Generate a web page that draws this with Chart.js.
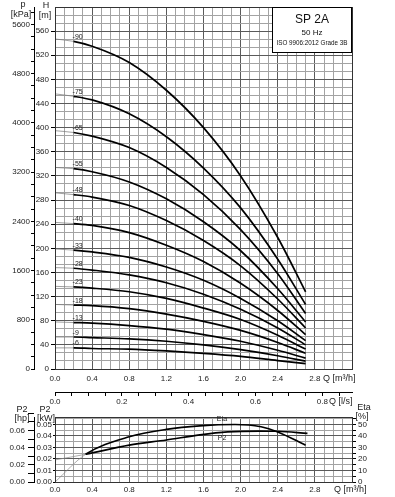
<!DOCTYPE html>
<html><head><meta charset="utf-8">
<script src="https://cdn.jsdelivr.net/npm/chart.js@4/dist/chart.umd.min.js"></script>
<style>
html,body{margin:0;padding:0;background:#fff;width:395px;height:497px;overflow:hidden;position:relative}
canvas{position:absolute;left:0}
</style></head>
<body>
<canvas id="top" width="395" height="410" style="top:0"></canvas>
<canvas id="bot" width="395" height="97" style="top:400px"></canvas>
<script>
// ---------- DATA ----------
const flowQ = [0, 0.2, 0.4, 0.8, 1.2, 1.6, 2.0, 2.4, 2.7];           // m3/h
const stageLabels = ['-90','-75','-65','-55','-48','-40','-33','-28','-23','-18','-13','-9','-6'];
const head90 = [547, 543, 535, 508, 462, 400, 320, 218, 128];
const head75 = [456, 452, 446, 423, 385, 333, 267, 182, 107];
const head65 = [395, 392, 386, 367, 334, 289, 231, 158, 92];
const head55 = [334, 332, 327, 310, 282, 244, 196, 133, 78];
const head48 = [292, 289, 285, 271, 246, 213, 171, 116, 68];
const head40 = [243, 241, 238, 226, 205, 178, 142, 97, 57];
const head33 = [199, 197, 194, 185, 169, 147, 117, 80, 47];
const head28 = [168, 167, 164, 156, 143, 124, 99, 68, 40];
const head23 = [137, 136, 134, 128, 117, 101, 82, 56, 33];
const head18 = [107, 106, 105, 100, 91, 79, 64, 44, 26];
const head13 = [78, 77, 76, 72, 66, 57, 46, 31, 18];
const head9  = [53, 53, 52, 50, 46, 40, 32, 22, 13];
const head6  = [35, 35, 34, 33, 30, 26, 21, 14, 9];
const headCurves = [head90, head75, head65, head55, head48, head40, head33, head28, head23, head18, head13, head9, head6];

const effQ   = [0, 0.33, 0.8, 1.2, 1.56, 1.94, 2.22, 2.4, 2.7];
const etaPct = [0, 24.1, 39.3, 45.7, 48.8, 50, 48, 43.5, 32];
const p2Q    = [0, 0.33, 0.8, 1.2, 1.56, 1.86, 2.2, 2.4, 2.72];
const p2kW   = [0.0192, 0.0241, 0.0321, 0.0365, 0.041, 0.0436, 0.0443, 0.0441, 0.0422];

const qTickLabels   = [0.0, 0.4, 0.8, 1.2, 1.6, 2.0, 2.4, 2.8];
const lsTickLabels  = [0.0, 0.2, 0.4, 0.6, 0.8];
const hTickLabels   = [0, 40, 80, 120, 160, 200, 240, 280, 320, 360, 400, 440, 480, 520, 560];
const pTickLabels   = [0, 800, 1600, 2400, 3200, 4000, 4800, 5600];
const kwTickLabels  = [0.00, 0.01, 0.02, 0.03, 0.04, 0.05];
const hpTickLabels  = [0.00, 0.02, 0.04, 0.06];
const etaTickLabels = [0, 10, 20, 30, 40, 50];

// ---------- HELPERS ----------
const FAM = '"Liberation Sans", Arial, sans-serif';
Chart.defaults.font.family = FAM;
Chart.defaults.color = '#222';
const F8 = {family: FAM, size: 8};
function grid(maxV, step){ const a=[]; const n=Math.round(maxV/step); for(let i=0;i<=n;i++) a.push(+(i*step).toFixed(6)); return a; }
function has(list, v){ return list.some(t => Math.abs(t - v) < 1e-6); }
const Q_MAX = 3.2, H_MAX = 600;
const qGrid = grid(Q_MAX, 0.1);
const hGrid = grid(H_MAX, 40/3);
const pGrid = grid(5800, 200);
const lsGrid = grid(0.85, 0.05);
const minorC = '#a3a3a3', majorC = '#5a5a5a';

const topDecor = {
  id: 'topDecor',
  afterDraw(chart){
    const c = chart.ctx, a = chart.chartArea;
    c.save();
    c.strokeStyle = '#333'; c.lineWidth = 1;
    c.strokeRect(Math.round(a.left)+0.5, Math.round(a.top)+0.5, Math.round(a.right-a.left), Math.round(a.bottom-a.top));
    // legend box
    c.fillStyle = '#fff'; c.fillRect(272, 7, 80, 45);
    c.strokeStyle = '#000'; c.strokeRect(272.5, 7.5, 79, 45);
    c.fillStyle = '#111'; c.textAlign = 'center'; c.textBaseline = 'middle';
    c.font = '12px ' + FAM; c.fillText('SP 2A', 312, 20);
    c.font = '8px ' + FAM; c.fillText('50 Hz', 312, 33);
    c.font = '6.3px ' + FAM; c.fillText('ISO 9906:2012 Grade 3B', 312, 43.5);
    // axis titles
    c.font = '9px ' + FAM; c.fillStyle = '#222';
    c.fillText('p', 23, 5); c.fillText('[kPa]', 21, 15);
    c.fillText('H', 46, 6); c.fillText('[m]', 45, 16);
    c.textAlign = 'left';
    c.fillText('Q [m\u00B3/h]', 323, 379);
    c.fillText('Q [l/s]', 329, 402);
    // curve labels
    c.font = '7px ' + FAM; c.textBaseline = 'alphabetic';
    const xs = chart.scales.x, ys = chart.scales.y;
    chart.data.datasets.forEach(ds => {
      const p = ds.data[1];
      c.fillText(ds.label, xs.getPixelForValue(p.x) - 1, ys.getPixelForValue(p.y) - 2.5);
    });
    c.restore();
  }
};

new Chart(document.getElementById('top'), {
  type: 'line',
  data: {
    datasets: headCurves.map((h, i) => ({
      label: stageLabels[i],
      data: flowQ.map((q, j) => ({x: q, y: h[j]})),
      borderColor: '#000', borderWidth: 1.6, pointRadius: 0, fill: false,
      cubicInterpolationMode: 'monotone',
      segment: {
        borderWidth: ctx => ctx.p1.parsed.x <= 0.2001 ? 0.7 : 1.7,
        borderColor: ctx => ctx.p1.parsed.x <= 0.2001 ? '#777' : '#000'
      }
    }))
  },
  options: {
    responsive: false, animation: false, devicePixelRatio: 1,
    layout: {padding: {top: 7, right: 43, left: 0, bottom: 0}},
    plugins: {legend: {display: false}, tooltip: {enabled: false}},
    scales: {
      x: {
        type: 'linear', position: 'bottom', min: 0, max: Q_MAX, weight: 0,
        afterFit: s => { s.height = 23; },
        afterBuildTicks: s => { s.ticks = qGrid.map(v => ({value: v})); },
        ticks: {autoSkip: false, maxRotation: 0, minRotation: 0, padding: 5, font: F8,
          callback: v => has(qTickLabels, v) ? v.toFixed(1) : ''},
        grid: {drawTicks: false, lineWidth: 1, color: ctx => has(qTickLabels, ctx.tick ? ctx.tick.value : -1) ? majorC : minorC},
        border: {color: '#000', width: 1}
      },
      ls: {
        type: 'linear', position: 'bottom', min: 0, max: Q_MAX / 3.6, weight: 1,
        afterFit: s => { s.height = 18; },
        afterBuildTicks: s => { s.ticks = lsGrid.map(v => ({value: v})); },
        ticks: {autoSkip: false, maxRotation: 0, minRotation: 0, padding: 1, font: F8,
          callback: v => has(lsTickLabels, v) ? v.toFixed(1) : ''},
        grid: {drawOnChartArea: false, tickLength: 4, tickColor: '#000'},
        border: {color: '#000', width: 1}
      },
      y: {
        type: 'linear', position: 'left', min: 0, max: H_MAX, weight: 0,
        afterFit: s => { s.width = 21; },
        afterBuildTicks: s => { s.ticks = hGrid.map(v => ({value: v})); },
        ticks: {autoSkip: false, padding: 2, font: F8,
          callback: v => has(hTickLabels, v) ? String(Math.round(v)) : ''},
        grid: {lineWidth: 1, tickLength: 4,
          color: ctx => has(hTickLabels, ctx.tick ? ctx.tick.value : -1) ? majorC : minorC,
          tickColor: ctx => has(hTickLabels, ctx.tick ? ctx.tick.value : -1) ? '#000' : 'rgba(0,0,0,0)'},
        border: {color: '#000', width: 1}
      },
      p: {
        type: 'linear', position: 'left', min: 0, max: H_MAX * 9.80665, weight: 1,
        afterFit: s => { s.width = 34; },
        afterBuildTicks: s => { s.ticks = pGrid.map(v => ({value: v})); },
        ticks: {autoSkip: false, padding: 1, font: F8,
          callback: v => has(pTickLabels, v) ? String(v) : ''},
        grid: {drawOnChartArea: false, tickLength: 3, tickColor: '#000'},
        border: {color: '#000', width: 1}
      }
    }
  },
  plugins: [topDecor]
});

// ---------- BOTTOM CHART ----------
const KW_MAX = 0.0565;
const kwGrid = grid(KW_MAX, 0.005);
const hpGrid = grid(0.075, 0.01);
const etaGrid = grid(55, 5);

const botDecor = {
  id: 'botDecor',
  afterDraw(chart){
    const c = chart.ctx, a = chart.chartArea;
    c.save();
    c.strokeStyle = '#333'; c.lineWidth = 1;
    c.strokeRect(Math.round(a.left)+0.5, Math.round(a.top)+0.5, Math.round(a.right-a.left), Math.round(a.bottom-a.top));
    c.fillStyle = '#222'; c.textAlign = 'center'; c.textBaseline = 'middle';
    c.font = '9px ' + FAM;
    c.fillText('P2', 22, 10); c.fillText('[hp]', 22, 18.5);
    c.fillText('P2', 45, 10); c.fillText('[kW]', 46, 18.5);
    c.fillText('Eta', 364, 8); c.fillText('[%]', 362, 17);
    c.font = '7px ' + FAM;
    c.fillText('Eta', 222, 19); c.fillText('P2', 222, 38);
    c.font = '9px ' + FAM; c.textAlign = 'left';
    c.fillText('Q [m\u00B3/h]', 334, 90);
    c.restore();
  }
};

new Chart(document.getElementById('bot'), {
  type: 'line',
  data: {
    datasets: [
      {label: 'P2', yAxisID: 'y', data: p2Q.map((q, i) => ({x: q, y: p2kW[i]})),
       borderColor: '#000', borderWidth: 1.6, pointRadius: 0, fill: false, cubicInterpolationMode: 'monotone',
       segment: {borderWidth: ctx => ctx.p1.parsed.x <= 0.331 ? 0.7 : 1.7, borderColor: ctx => ctx.p1.parsed.x <= 0.331 ? '#888' : '#000'}},
      {label: 'Eta', yAxisID: 'eta', data: effQ.map((q, i) => ({x: q, y: etaPct[i]})),
       borderColor: '#000', borderWidth: 1.6, pointRadius: 0, fill: false, cubicInterpolationMode: 'monotone',
       segment: {borderWidth: ctx => ctx.p1.parsed.x <= 0.331 ? 0.7 : 1.7, borderColor: ctx => ctx.p1.parsed.x <= 0.331 ? '#888' : '#000'}}
    ]
  },
  options: {
    responsive: false, animation: false, devicePixelRatio: 1,
    layout: {padding: {top: 17, right: 0, left: 0, bottom: 0}},
    plugins: {legend: {display: false}, tooltip: {enabled: false}},
    scales: {
      x: {
        type: 'linear', position: 'bottom', min: 0, max: Q_MAX,
        afterFit: s => { s.height = 15; },
        afterBuildTicks: s => { s.ticks = qGrid.map(v => ({value: v})); },
        ticks: {autoSkip: false, maxRotation: 0, minRotation: 0, padding: 3, font: F8,
          callback: v => has(qTickLabels, v) ? v.toFixed(1) : ''},
        grid: {drawTicks: false, color: ctx => has(qTickLabels, ctx.tick ? ctx.tick.value : -1) ? majorC : minorC},
        border: {color: '#000', width: 1}
      },
      y: {
        type: 'linear', position: 'left', min: 0, max: KW_MAX, weight: 0,
        afterFit: s => { s.width = 21; },
        afterBuildTicks: s => { s.ticks = kwGrid.map(v => ({value: v})); },
        ticks: {autoSkip: false, padding: 1, font: F8,
          callback: v => has(kwTickLabels, v) ? v.toFixed(2) : ''},
        grid: {tickLength: 2,
          color: ctx => has(kwTickLabels, ctx.tick ? ctx.tick.value : -1) ? majorC : minorC,
          tickColor: ctx => has(kwTickLabels, ctx.tick ? ctx.tick.value : -1) ? '#000' : 'rgba(0,0,0,0)'},
        border: {color: '#000', width: 1}
      },
      hp: {
        type: 'linear', position: 'left', min: 0, max: KW_MAX / 0.7457, weight: 1,
        afterFit: s => { s.width = 34; },
        afterBuildTicks: s => { s.ticks = hpGrid.map(v => ({value: v})); },
        ticks: {autoSkip: false, padding: 3, font: F8,
          callback: v => has(hpTickLabels, v) ? v.toFixed(2) : ''},
        grid: {drawOnChartArea: false, tickLength: 6, tickColor: '#000'},
        border: {color: '#000', width: 1}
      },
      eta: {
        type: 'linear', position: 'right', min: 0, max: KW_MAX * 1000,
        afterFit: s => { s.width = 43; },
        afterBuildTicks: s => { s.ticks = etaGrid.map(v => ({value: v})); },
        ticks: {autoSkip: false, padding: 2, font: F8,
          callback: v => has(etaTickLabels, v) ? String(Math.round(v)) : ''},
        grid: {drawOnChartArea: false, tickLength: 4, tickColor: '#000'},
        border: {color: '#000', width: 1}
      }
    }
  },
  plugins: [botDecor]
});
</script>
</body></html>
